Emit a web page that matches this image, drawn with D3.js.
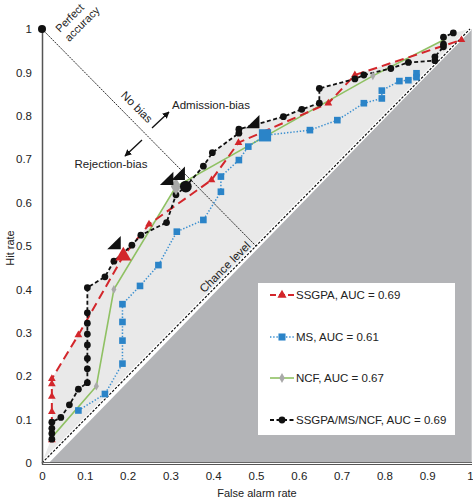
<!DOCTYPE html>
<html><head><meta charset="utf-8">
<script src="https://cdn.jsdelivr.net/npm/d3@7"></script>
<style>
body{margin:0;background:#fff}
svg{display:block}
text{font-family:"Liberation Sans",Arial,Helvetica,sans-serif;fill:#222}
</style>
</head><body>
<svg id="c" width="473" height="500"></svg>
<script>
// ---------- data ----------
const ticks = [0,0.1,0.2,0.3,0.4,0.5,0.6,0.7,0.8,0.9,1];

const ssgpaX = [0.023,0.023,0.023,0.023,0.023,0.085,0.19,0.25,0.396,0.459,0.669,0.731,0.98];
const ssgpaY = [0.053,0.118,0.153,0.182,0.194,0.295,0.477,0.55,0.652,0.738,0.829,0.894,0.975];

const msX = [0.085,0.147,0.188,0.188,0.188,0.188,0.229,0.272,0.315,0.377,0.418,0.418,0.46,0.482,0.521,0.626,0.69,0.752,0.794,0.794,0.835,0.856,0.875,0.875];
const msY = [0.121,0.159,0.229,0.282,0.325,0.366,0.408,0.456,0.533,0.56,0.625,0.66,0.698,0.729,0.755,0.767,0.79,0.829,0.84,0.858,0.88,0.882,0.889,0.898];

const ncfX = [0.023,0.127,0.168,0.313,0.773,0.945];
const ncfY = [0.059,0.177,0.40,0.637,0.892,0.978];

const allX = [0.023,0.023,0.023,0.023,0.044,0.064,0.085,0.106,0.106,0.106,0.106,0.106,0.106,0.106,0.106,0.147,0.168,0.21,0.231,0.291,0.313,0.336,0.377,0.398,0.46,0.46,0.564,0.607,0.648,0.648,0.731,0.752,0.815,0.856,0.918,0.918,0.938,0.938,0.938,0.961];
const allY = [0.055,0.068,0.08,0.094,0.105,0.134,0.17,0.185,0.217,0.241,0.272,0.297,0.322,0.346,0.404,0.429,0.465,0.502,0.525,0.554,0.618,0.637,0.684,0.715,0.76,0.769,0.798,0.815,0.829,0.863,0.885,0.894,0.909,0.923,0.927,0.936,0.959,0.965,0.981,0.991];

const legendLabels = ["SSGPA, AUC = 0.69","MS, AUC = 0.61","NCF, AUC = 0.67","SSGPA/MS/NCF, AUC = 0.69"];
// highlighted operating point index per series
const highlightIdx = {ssgpa:6, ms:14, ncf:3, all:21};
// tips of the black wedge pointers (data units)
const wedgeX = [0.184,0.307,0.334,0.508];
const wedgeY = [0.523,0.671,0.683,0.802];

// ---------- setup ----------
const svg = d3.select('#c');
const x = d3.scaleLinear().domain([0,1]).range([42,470]);
const y = d3.scaleLinear().domain([0,1]).range([463,29]);
const zip = (a,b)=>a.map((v,i)=>[v,b[i]]);
const line = d3.line().x(d=>x(d[0])).y(d=>y(d[1]));

const series = [
  {key:'ncf', pts:zip(ncfX,ncfY), color:'#8fc163', dash:null, w:1.6, sym:d3.symbolDiamond, size:22, mfill:'#a9a9a9', bigSize:90},
  {key:'ms', pts:zip(msX,msY), color:'#3a8fd0', dash:'1.4,1.8', w:1.5, sym:d3.symbolSquare, size:44, mfill:'#2b84c8', bigSize:150},
  {key:'ssgpa', pts:zip(ssgpaX,ssgpaY), color:'#d3262b', dash:'9,5', w:2, sym:d3.symbolTriangle, size:26, mfill:'#d3262b', bigSize:110},
  {key:'all', pts:zip(allX,allY), color:'#111', dash:'4,2.5', w:1.8, sym:d3.symbolCircle, size:36, mfill:'#111', bigSize:110}
];

// light gray region between each curve and the chance diagonal
series.forEach(s=>{
  svg.append('path').attr('d', line([[0,0], ...s.pts, [1,1]])+'Z').attr('fill','#e9e9e9');
});
// dark gray region below chance level
svg.append('path').attr('d', line([[0.016,0],[1.004,1],[1.004,0]])+'Z').attr('fill','#b3b4b7');

// chance level line
svg.append('path').attr('d', line([[0,0],[1,1]])).attr('stroke','#fff').attr('stroke-width',3.5).attr('fill','none');
svg.append('path').attr('d', line([[0,0],[1,1]])).attr('stroke','#111').attr('stroke-width',1.2).attr('stroke-dasharray','2.5,1.5').attr('fill','none');

// no-bias line from perfect accuracy to chance
svg.append('path').attr('d', line([[0,1],[0.5,0.5]])).attr('stroke','#111').attr('stroke-width',0.9).attr('stroke-dasharray','2,1').attr('fill','none');

// axes lines
svg.append('line').attr('x1',42.5).attr('x2',42.5).attr('y1',y(1)-1).attr('y2',y(0)+1.5).attr('stroke','#555').attr('stroke-width',1.5);
svg.append('line').attr('x1',42).attr('x2',472).attr('y1',462.5).attr('y2',462.5).attr('stroke','#666').attr('stroke-width',1);
svg.append('line').attr('x1',42).attr('x2',472).attr('y1',464.5).attr('y2',464.5).attr('stroke','#555').attr('stroke-width',1);

const fmt = v => v===0?'0':(v===1?'1':d3.format('.1f')(v));
const gx = svg.append('g').attr('transform','translate(0,463)')
  .call(d3.axisBottom(x).tickValues(ticks).tickFormat(fmt).tickSize(0).tickPadding(9));
const gy = svg.append('g').attr('transform','translate(42,0)')
  .call(d3.axisLeft(y).tickValues(ticks).tickFormat(fmt).tickSize(0).tickPadding(10));
[gx,gy].forEach(g=>{
  g.select('.domain').remove();
  g.selectAll('text').style('font-family','"Liberation Sans",Arial,sans-serif').style('font-size','11.5px').attr('fill','#333');
});

// axis titles
svg.append('text').attr('x',257).attr('y',497).attr('text-anchor','middle').style('font-size','11px').text('False alarm rate');
svg.append('text').attr('transform','translate(14,248) rotate(-90)').attr('text-anchor','middle').style('font-size','11px').text('Hit rate');

// curves
series.forEach(s=>{
  svg.append('path').attr('d', line(s.pts)).attr('fill','none').attr('stroke',s.color)
    .attr('stroke-width',s.w).attr('stroke-dasharray',s.dash);
});
series.forEach(s=>{
  const pts = s.key==='ncf' ? s.pts.slice(1, s.pts.length-1) : s.pts;
  svg.append('g').selectAll('path').data(pts).join('path')
    .attr('transform',d=>`translate(${x(d[0])},${y(d[1])})`)
    .attr('d', d3.symbol().type(s.sym).size(s.size)())
    .attr('fill', s.mfill);
});
// highlighted (big) markers
series.forEach(s=>{
  const d = s.pts[highlightIdx[s.key]];
  svg.append('path').attr('transform',`translate(${x(d[0])},${y(d[1])})`)
    .attr('d', d3.symbol().type(s.sym).size(s.bigSize)()).attr('fill', s.mfill);
});
// wedge pointers
wedgeX.forEach((wx,i)=>{
  const tx = x(wx), ty = y(wedgeY[i]);
  svg.append('path').attr('d',`M${tx-13.5},${ty+13.3}L${tx},${ty+13.3}L${tx},${ty}Z`).attr('fill','#111');
});

// perfect accuracy point
svg.append('circle').attr('cx',x(0)).attr('cy',y(1)).attr('r',4).attr('fill','#111');

// annotations
const pa = svg.append('text').attr('transform','translate(60,33) rotate(-45)').style('font-size','11px');
pa.append('tspan').attr('x',0).attr('dy',0).text('Perfect');
pa.append('tspan').attr('x',0).attr('dy',13).text('accuracy');

svg.append('text').attr('transform','translate(137,107) rotate(45)').attr('text-anchor','middle').attr('dy','0.35em').style('font-size','11.5px').text('No bias');
svg.append('text').attr('transform','translate(225,267) rotate(-45)').attr('text-anchor','middle').attr('dy','0.35em').style('font-size','11.5px').text('Chance level');

const defs = svg.append('defs');
defs.append('marker').attr('id','ah').attr('viewBox','0 0 10 10').attr('refX',9).attr('refY',5)
  .attr('markerWidth',7).attr('markerHeight',7).attr('markerUnits','userSpaceOnUse').attr('orient','auto')
  .append('path').attr('d','M0,0L10,5L0,10Z').attr('fill','#111');
svg.append('line').attr('x1',152).attr('y1',128).attr('x2',169).attr('y2',112).attr('stroke','#111').attr('stroke-width',1.3).attr('marker-end','url(#ah)');
svg.append('line').attr('x1',142).attr('y1',140).attr('x2',125).attr('y2',156).attr('stroke','#111').attr('stroke-width',1.3).attr('marker-end','url(#ah)');
svg.append('text').attr('x',172).attr('y',109).style('font-size','11.5px').text('Admission-bias');
svg.append('text').attr('x',111).attr('y',168).attr('text-anchor','middle').style('font-size','11.5px').text('Rejection-bias');

// legend
svg.append('rect').attr('x',258).attr('y',283).attr('width',197).attr('height',152).attr('fill','#fff');
const legOrder = ['ssgpa','ms','ncf','all'];
const legY = [295,337,378,420];
legOrder.forEach((k,i)=>{
  const s = series.find(t=>t.key===k);
  const ly = legY[i];
  svg.append('line').attr('x1',270).attr('x2',294).attr('y1',ly).attr('y2',ly).attr('stroke',s.color)
    .attr('stroke-width',s.w).attr('stroke-dasharray',k==='ssgpa'?'6,3':s.dash);
  svg.append('path').attr('transform',`translate(282,${ly})`).attr('d',d3.symbol().type(s.sym).size(k==='ms'?50:(k==='ncf'?28:36))()).attr('fill',s.mfill);
  svg.append('text').attr('x',296).attr('y',ly).attr('dy','0.35em').style('font-size','11.5px').text(legendLabels[i]);
});
</script>
</body></html>
